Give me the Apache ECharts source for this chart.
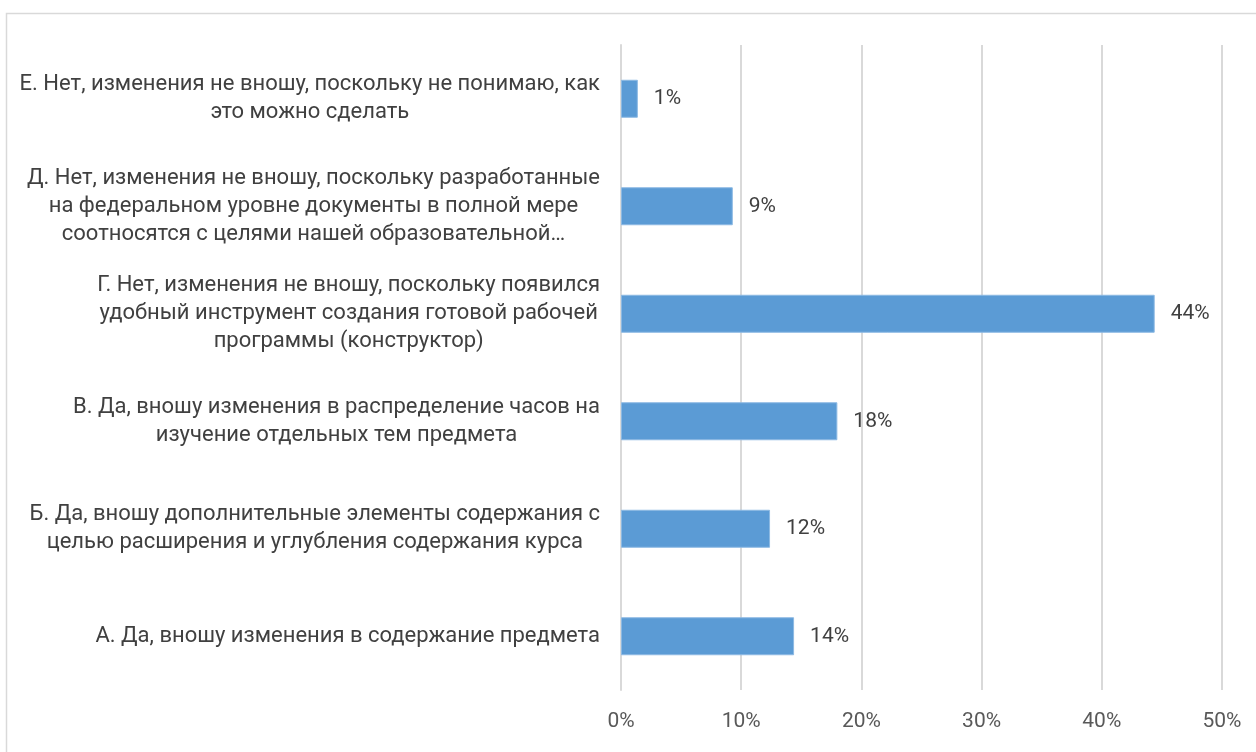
<!DOCTYPE html>
<html>
<head>
<meta charset="utf-8">
<script src="https://cdn.jsdelivr.net/npm/echarts@6/dist/echarts.min.js"></script>
<style>
  html, body { margin: 0; padding: 0; background: #ffffff; }
  #chart { width: 1256px; height: 752px; }
</style>
</head>
<body>
<div id="chart"></div>
<script>
// Survey answers, listed bottom-to-top as they appear on the category axis
const categories = [
  'А. Да, вношу изменения в содержание предмета',
  'Б. Да, вношу дополнительные элементы содержания с\nцелью расширения и углубления содержания курса',
  'В. Да, вношу изменения в распределение часов на\nизучение отдельных тем предмета',
  'Г. Нет, изменения не вношу, поскольку появился\nудобный инструмент создания готовой рабочей\nпрограммы (конструктор)',
  'Д. Нет, изменения не вношу, поскольку разработанные\nна федеральном уровне документы в полной мере\nсоотносятся с целями нашей образовательной…',
  'Е. Нет, изменения не вношу, поскольку не понимаю, как\nэто можно сделать'
];

// Share of respondents, percent
const shares = [14.4, 12.4, 18.0, 44.4, 9.3, 1.4];

// Value axis ticks
const axisMin = 0;
const axisMax = 50;
const axisStep = 10;

const FONT = 'Roboto, "Noto Sans", sans-serif';

const chart = echarts.init(document.getElementById('chart'), null, { renderer: 'canvas' });

chart.setOption({
  animation: false,
  backgroundColor: '#ffffff',
  graphic: [{
    type: 'rect',
    silent: true,
    z: -10,
    shape: { x: 6.5, y: 13.5, width: 1400, height: 900 },
    style: { fill: 'none', stroke: '#d9d9d9', lineWidth: 1.5 }
  }],
  grid: { left: 621, right: 34, top: 45, bottom: 62, containLabel: false },
  xAxis: {
    type: 'value',
    min: axisMin,
    max: axisMax,
    interval: axisStep,
    axisLine: { show: false },
    axisTick: { show: false },
    splitLine: { show: true, lineStyle: { color: '#d9d9d9', width: 2 } },
    axisLabel: {
      formatter: v => v + '%',
      color: '#595959',
      fontFamily: FONT,
      fontSize: 21,
      margin: 21
    }
  },
  yAxis: {
    type: 'category',
    data: categories,
    axisLine: { show: true, lineStyle: { color: '#d9d9d9', width: 2 } },
    axisTick: { show: false },
    axisLabel: {
      margin: 21,
      align: 'right',
      formatter: v => '{c|' + v + '}',
      rich: {
        c: {
          align: 'center',
          color: '#404040',
          fontFamily: FONT,
          fontSize: 22,
          lineHeight: 28
        }
      }
    }
  },
  series: [{
    type: 'bar',
    data: shares,
    barWidth: 38,
    itemStyle: { color: '#5b9bd5', borderColor: '#8cb9e3', borderWidth: 1 },
    label: {
      show: true,
      position: 'right',
      distance: 16,
      formatter: p => Math.round(p.value) + '%',
      color: '#404040',
      fontFamily: FONT,
      fontSize: 21
    }
  }]
});
</script>
</body>
</html>
